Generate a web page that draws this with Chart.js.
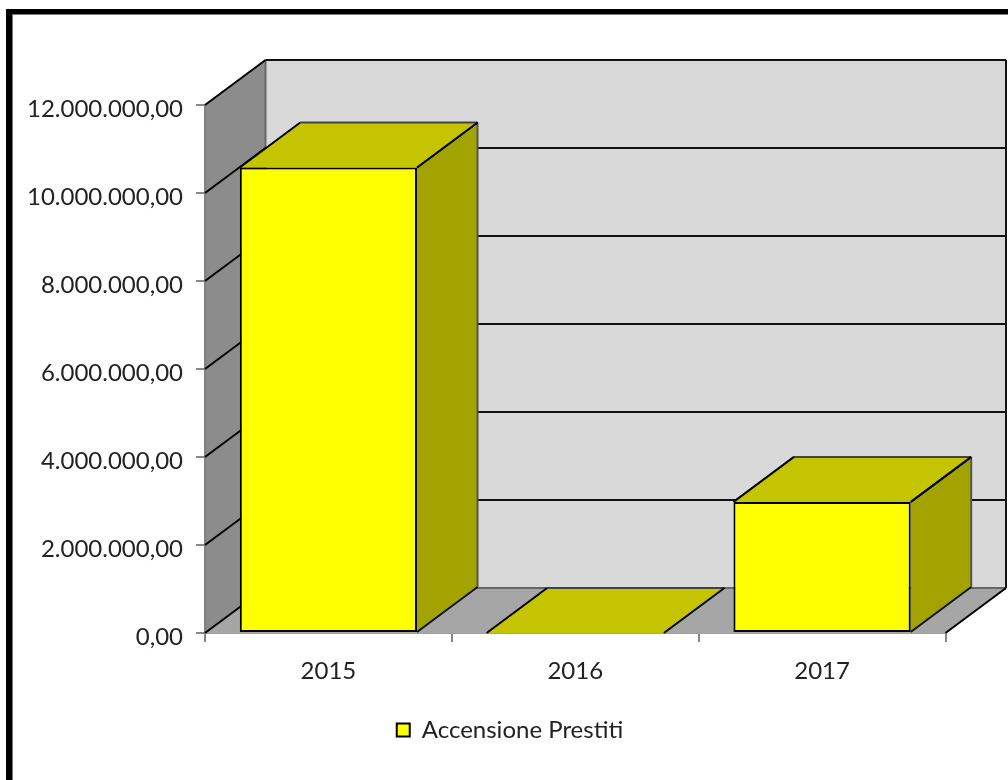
<!DOCTYPE html>
<html>
<head>
<meta charset="utf-8">
<style>html,body{margin:0;padding:0;background:#fff}canvas{display:block;filter:blur(0.4px)}</style>
<script src="https://cdn.jsdelivr.net/npm/chart.js@4"></script>
</head>
<body>
<canvas id="c" width="1008" height="780"></canvas>
<script>
const categories = ['2015', '2016', '2017'];
const seriesName = 'Accensione Prestiti';
const seriesValues = [10580000, 0, 2980000];
const yTicks = [0, 2000000, 4000000, 6000000, 8000000, 10000000, 12000000];

const DX = 60.5, DY = -45;
function fmt(v){
  return Number(v).toFixed(2).replace('.', ',').replace(/\B(?=(\d{3})+(?!\d))/g, '.');
}
function poly(ctx, pts, fill, stroke, lw){
  ctx.beginPath();
  pts.forEach((p,i)=> i ? ctx.lineTo(p[0],p[1]) : ctx.moveTo(p[0],p[1]));
  ctx.closePath();
  if(fill){ctx.fillStyle=fill;ctx.fill();}
  if(stroke){ctx.strokeStyle=stroke;ctx.lineWidth=lw||2;ctx.stroke();}
}
function line(ctx,a,b,color,lw){
  ctx.beginPath();ctx.moveTo(a[0],a[1]);ctx.lineTo(b[0],b[1]);
  ctx.strokeStyle=color;ctx.lineWidth=lw||2;ctx.stroke();
}
const scene3d = {
  id:'scene3d',
  afterLayout(chart){
    const lg = chart.legend;
    if(lg){ lg.left = 12; lg.right = 1008; lg.width = 996; const h = lg.height; lg.top = 718; lg.bottom = 718+h; }
  },
  beforeDraw(chart){
    const ctx = chart.ctx;
    ctx.save();
    ctx.fillStyle='#000';
    ctx.fillRect(6,9,1002,5);
    ctx.fillRect(6,9,6,771);
    ctx.fillStyle='#777';
    ctx.fillRect(12,14,996,1);
    ctx.fillRect(12,14,1,766);
    ctx.restore();
  },
  beforeDatasetsDraw(chart){
    const ctx = chart.ctx, y = chart.scales.y, a = chart.chartArea;
    const L=a.left,R=a.right,T=y.getPixelForValue(yTicks[yTicks.length-1]),B=y.getPixelForValue(0);
    ctx.save();
    ctx.lineJoin='round';
    poly(ctx,[[L+DX,T+DY],[R+DX,T+DY],[R+DX,B+DY],[L+DX,B+DY]],'#d9d9d9');
    poly(ctx,[[L,T],[L+DX,T+DY],[L+DX,B+DY],[L,B]],'#8c8c8c');
    poly(ctx,[[L,B],[L+DX,B+DY],[R+DX,B+DY],[R,B]],'#a6a6a6');
    line(ctx,[L,T],[L,B],'#808080',2);
    line(ctx,[L+DX,T+DY],[L+DX,B+DY],'#666',2);
    line(ctx,[L+DX,B+DY],[R+DX,B+DY],'#666',2);
    yTicks.forEach(v=>{
      const py=y.getPixelForValue(v);
      line(ctx,[L,py],[L+DX,py+DY],'#000',2);
      if(v>0) line(ctx,[L+DX,py+DY],[R+DX,py+DY],'#111',2);
    });
    line(ctx,[R+DX,T+DY],[R+DX,B+DY],'#111',2);
    line(ctx,[R,B],[R+DX,B+DY],'#000',2);
    const meta = chart.getDatasetMeta(0);
    meta.data.forEach(el=>{
      const l=el.x-el.width/2,r=el.x+el.width/2,t=el.y,b=el.base;
      if(b-t>0){
        poly(ctx,[[r,t],[r+DX,t+DY],[r+DX,b+DY],[r,b]],'#a3a300');
        line(ctx,[r+DX,t+DY],[r+DX,b+DY],'#555',2);
        line(ctx,[r,t],[r+DX,t+DY],'#000',2);
        line(ctx,[r,b],[r+DX,b+DY],'#111',2);
      }
      poly(ctx,[[l,t],[l+DX,t+DY],[r+DX,t+DY],[r,t]],'#c4c400');
      line(ctx,[l+DX,t+DY],[r+DX,t+DY],'#444',2);
      line(ctx,[l,t],[l+DX,t+DY],'#000',2);
      line(ctx,[r,t],[r+DX,t+DY],'#000',2);
    });
    ctx.restore();
  }
};
new Chart(document.getElementById('c'),{
  type:'bar',
  data:{
    labels:categories,
    datasets:[{
      label:seriesName,
      data:seriesValues,
      backgroundColor:'#ffff00',
      borderColor:'#000',
      borderWidth:2,
      borderSkipped:false,
      barPercentage:0.718,
      categoryPercentage:1
    }]
  },
  options:{
    responsive:false,
    animation:false,
    events:[],
    layout:{padding:{left:0,top:105,right:62.5,bottom:0}},
    plugins:{
      tooltip:{enabled:false},
      title:{display:false},
      legend:{
        display:true,
        position:'bottom',
        labels:{color:'#222',font:{family:'Lato',size:24},boxWidth:13,boxHeight:13,padding:0}
      }
    },
    scales:{
      x:{
        grid:{display:true,drawOnChartArea:false,drawTicks:true,tickLength:9,color:'#868686',lineWidth:2},
        border:{display:true,color:'#a0a0a0',width:2},
        ticks:{color:'#222',font:{family:'Lato',size:24},padding:15,maxRotation:0},
        afterFit(s){s.height=113;}
      },
      y:{
        min:0,max:12000000,
        afterBuildTicks(s){s.ticks=yTicks.map(v=>({value:v}));},
        grid:{display:true,drawOnChartArea:false,drawTicks:true,tickLength:9,color:'#868686',lineWidth:2},
        border:{display:true,color:'#808080',width:2},
        ticks:{color:'#222',font:{family:'Lato',size:24},padding:13,labelOffset:4,callback:v=>fmt(v)},
        afterFit(s){s.width=205;}
      }
    }
  },
  plugins:[scene3d]
});
</script>
</body>
</html>
